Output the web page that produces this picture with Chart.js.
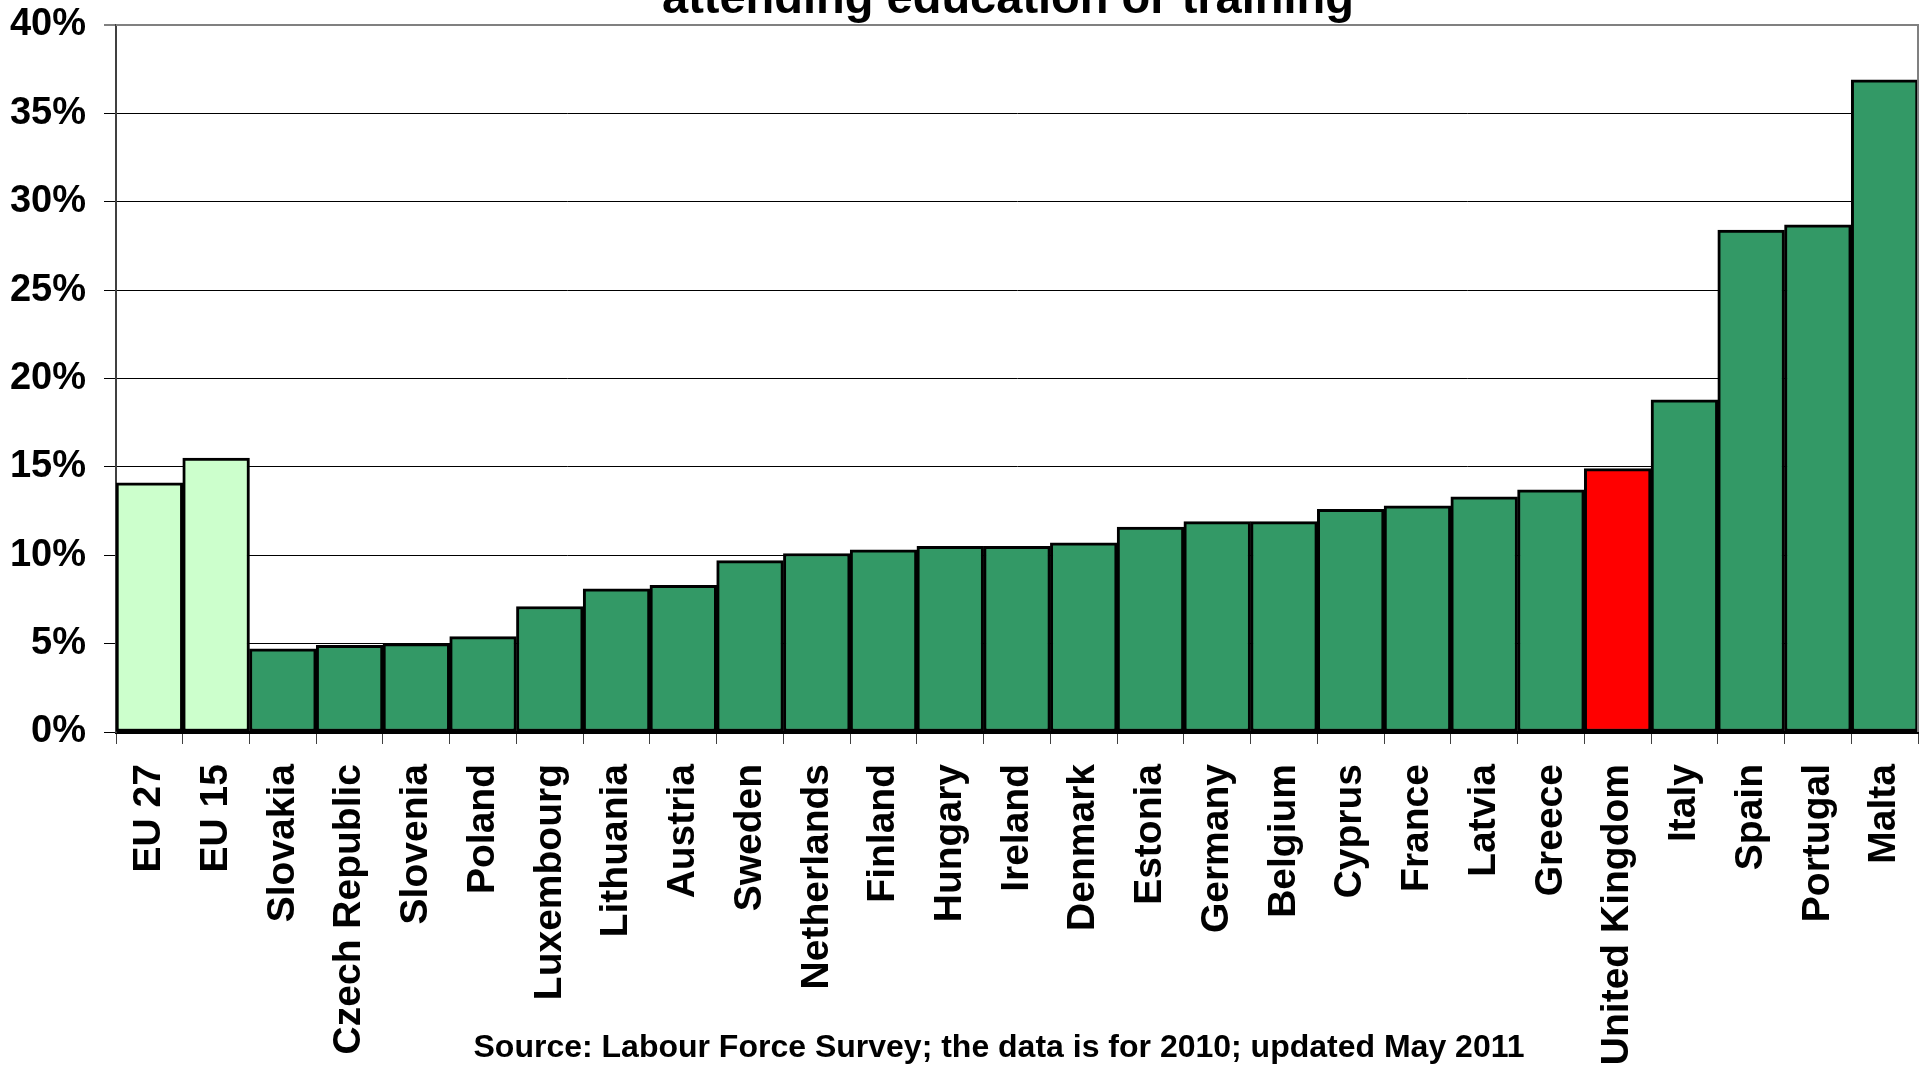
<!DOCTYPE html>
<html>
<head>
<meta charset="utf-8">
<script src="https://cdn.jsdelivr.net/npm/chart.js@4.4.1/dist/chart.umd.min.js"></script>
<style>
  html, body { margin: 0; padding: 0; background: #fff; }
  #wrap { width: 1920px; height: 1065px; position: relative; }
</style>
</head>
<body>
<div id="wrap"><canvas id="chart"></canvas></div>
<script>
const countries = ['EU 27', 'EU 15', 'Slovakia', 'Czech Republic', 'Slovenia', 'Poland', 'Luxembourg',
    'Lithuania', 'Austria', 'Sweden', 'Netherlands', 'Finland', 'Hungary', 'Ireland', 'Denmark',
    'Estonia', 'Germany', 'Belgium', 'Cyprus', 'France', 'Latvia', 'Greece', 'United Kingdom',
    'Italy', 'Spain', 'Portugal', 'Malta'];
const shares = [14.1, 15.5, 4.7, 4.9, 5.0, 5.4, 7.1, 8.1, 8.3, 9.7, 10.1, 10.3, 10.5, 10.5, 10.7,
    11.6, 11.9, 11.9, 12.6, 12.8, 13.3, 13.7, 14.9, 18.8, 28.4, 28.7, 36.9];
const averages = ['EU 27', 'EU 15'];
const highlight = 'United Kingdom';
const titleText = 'attending education or training';
const sourceText = 'Source: Labour Force Survey; the data is for 2010; updated May 2011';

const FONT = '"Liberation Sans", Arial, sans-serif';

const barColors = countries.map(c => {
    if (averages.includes(c)) return '#CCFFCC';
    if (c === highlight) return '#FF0000';
    return '#339966';
});

// title (cut off at the top) and source note
const textPlugin = {
    id: 'texts',
    afterDraw(chart) {
        const ctx = chart.ctx;
        ctx.save();
        ctx.fillStyle = '#000';
        ctx.textAlign = 'center';
        ctx.textBaseline = 'alphabetic';
        ctx.font = 'bold 47px ' + FONT;
        ctx.fillText(titleText, 1008, 13);
        ctx.font = 'bold 32px ' + FONT;
        ctx.textBaseline = 'middle';
        ctx.fillText(sourceText, 999, 1048);
        ctx.restore();
    }
};

// grey frame on top and right of plot area
const framePlugin = {
    id: 'frame',
    afterDatasetsDraw(chart) {
        const a = chart.chartArea;
        const ctx = chart.ctx;
        ctx.save();
        ctx.strokeStyle = '#808080';
        ctx.lineWidth = 2;
        ctx.beginPath();
        ctx.moveTo(a.left, a.top);
        ctx.lineTo(a.right, a.top);
        ctx.lineTo(a.right, a.bottom);
        ctx.stroke();
        ctx.restore();
    }
};

const ctx = document.getElementById('chart').getContext('2d');
const chart = new Chart(ctx, {
    type: 'bar',
    data: {
        labels: countries,
        datasets: [{
            data: shares,
            backgroundColor: barColors,
            borderColor: '#000',
            borderWidth: 3,
            borderSkipped: false,
            barPercentage: 1,
            categoryPercentage: 1
        }]
    },
    options: {
        responsive: true,
        maintainAspectRatio: false,
        animation: false,
        devicePixelRatio: 1,
        layout: { padding: { top: 25, right: 2, left: 0, bottom: 0 } },
        plugins: {
            legend: { display: false },
            title: { display: false },
            tooltip: { enabled: false }
        },
        scales: {
            x: {
                grid: {
                    offset: true,
                    drawOnChartArea: false,
                    drawTicks: true,
                    tickLength: 12,
                    color: '#404040',
                    lineWidth: 1
                },
                border: { color: '#000', width: 3 },
                ticks: {
                    color: '#000',
                    font: { family: FONT, size: 39, weight: 'bold' },
                    maxRotation: 90,
                    minRotation: 90,
                    autoSkip: false,
                    padding: 20
                },
                afterFit(scale) {
                    scale.height = 333;
                    scale.paddingLeft = 0;
                    scale.paddingRight = 0;
                }
            },
            y: {
                min: 0,
                max: 40,
                grid: {
                    color: c => c.tick && c.tick.value === 40 ? '#808080' : '#000',
                    lineWidth: c => c.tick && c.tick.value === 40 ? 2 : 1,
                    tickLength: 12
                },
                border: { color: '#404040', width: 2 },
                ticks: {
                    stepSize: 5,
                    color: '#000',
                    padding: 18,
                    font: { family: FONT, size: 38, weight: 'bold' },
                    callback: v => v + '%'
                },
                afterFit(scale) {
                    scale.width = 116;
                    scale.paddingTop = 0;
                    scale.paddingBottom = 0;
                }
            }
        }
    },
    plugins: [textPlugin, framePlugin]
});
</script>
</body>
</html>
